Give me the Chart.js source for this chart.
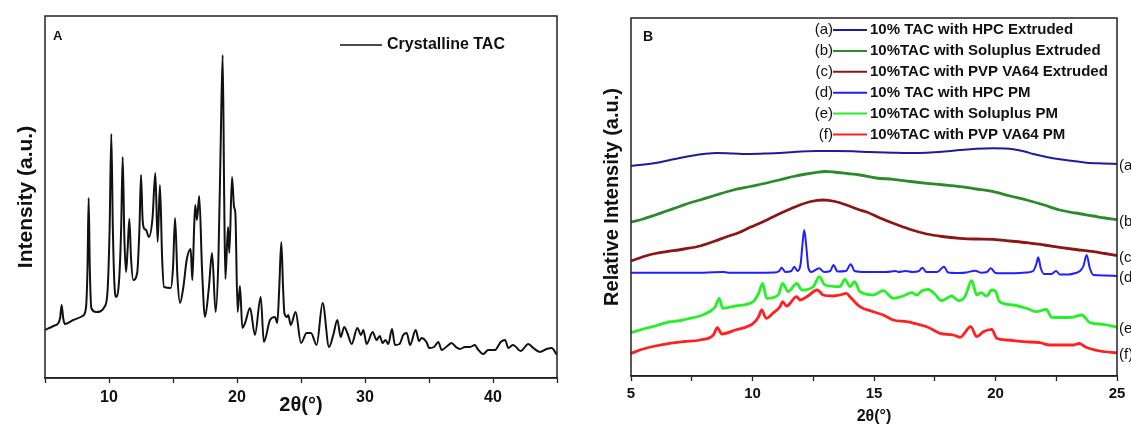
<!DOCTYPE html>
<html>
<head>
<meta charset="utf-8">
<title>TAC XRD patterns</title>
<script src="https://cdn.jsdelivr.net/npm/chart.js@4.4.1/dist/chart.umd.min.js"></script>
<style>
  html, body { margin: 0; padding: 0; background: #fff; }
  #wrap { position: relative; width: 1131px; height: 426px; overflow: hidden; }
  canvas { position: absolute; top: 0; }
  #panelA { left: 0; }
  #panelB { left: 570px; }
</style>
</head>
<body>
<div id="wrap">
  <canvas id="panelA" width="570" height="426"></canvas>
  <canvas id="panelB" width="561" height="426"></canvas>
</div>
<script>
const FONT = '"Liberation Sans", Arial, Helvetica, sans-serif';

// ---- Panel A: crystalline TAC ----
const tacAngle = [
  5.0, 5.65, 6.05, 6.18, 6.30, 6.42, 6.55, 7.21, 7.94, 8.2,
  8.32, 8.41, 8.5, 8.62, 9.0, 9.69, 9.9, 10.05, 10.18, 10.3,
  10.42, 10.55, 10.8, 10.95, 11.07, 11.2, 11.33, 11.46, 11.59, 11.72,
  11.9, 12.2, 12.38, 12.5, 12.62, 12.72, 12.9, 13.12, 13.4, 13.62,
  13.8, 13.98, 14.15, 14.3, 14.82, 15.0, 15.16, 15.35, 15.55, 15.8,
  16.07, 16.38, 16.51, 16.65, 16.74, 16.87, 17.05, 17.27, 17.5, 17.8,
  18.05, 18.33, 18.55, 18.72, 18.88, 19.0, 19.09, 19.3, 19.4, 19.61,
  19.77, 19.87, 20.05, 20.23, 20.42, 20.63, 21.02, 21.4, 21.85, 22.1,
  22.58, 22.97, 23.15, 23.3, 23.46, 23.6, 23.7, 23.9, 24.0, 24.2,
  24.58, 25.0, 25.44, 25.78, 26.22, 26.69, 27.19, 27.52, 27.84, 28.1,
  28.38, 28.62, 28.96, 29.4, 29.69, 29.87, 30.13, 30.6, 30.9, 31.15,
  31.38, 31.6, 31.82, 32.11, 32.34, 32.7, 32.99, 33.26, 33.52, 33.96,
  34.22, 34.43, 34.8, 35.03, 35.4, 35.73, 35.99, 36.43, 36.77, 37.1,
  37.42, 37.81, 38.2, 38.59, 38.8, 39.24, 39.63, 40.16, 40.6, 40.94,
  41.2, 41.54, 41.72, 42.16, 42.76, 43.15, 43.67, 44.19, 44.58, 45.0
];
const tacIntensity = [
  48, 52, 55, 60, 73, 60, 54, 58, 62, 70,
  110, 180, 110, 70, 66, 72, 90, 150, 244, 150,
  95, 81, 100, 150, 221, 140, 106, 130, 159, 120,
  98, 105, 150, 203, 160, 150, 148, 141, 160, 205,
  136, 193, 120, 91, 90, 110, 160, 100, 75, 90,
  118, 129, 98, 150, 173, 158, 182, 108, 61, 90,
  125, 66, 120, 230, 323, 180, 99, 151, 125, 201,
  171, 165, 66, 92, 50, 55, 70, 43, 81, 36,
  58, 61, 55, 90, 136, 90, 65, 61, 63, 53,
  66, 35, 45, 45, 33, 75, 31, 43, 58, 41,
  51, 45, 34, 50, 43, 48, 34, 46, 38, 42,
  35, 38, 34, 49, 33, 34, 43, 45, 33, 48,
  37, 40, 36, 30, 31, 36, 28, 32, 35, 31,
  29, 31, 31, 33, 29, 24, 28, 28, 36, 38,
  30, 33, 32, 27, 34, 30, 26, 29, 30, 23
];

// ---- Panel B: extrudates and physical mixtures (offset traces) ----
const hpcExtAngle = [
  5, 6.0, 6.47, 7.0, 7.56, 8.0, 8.53, 9.2, 9.9, 10.6,
  11.27, 12.0, 12.64, 13.4, 14.15, 14.8, 15.79, 16.5, 17.17, 17.9,
  18.54, 19.2, 19.91, 20.4, 20.73, 21.2, 21.56, 22.1, 22.65, 23.2,
  23.75, 24.4, 25
];
const hpcExtI = [
  210, 213, 215.3, 218, 220.5, 222, 223, 222.5, 222, 222.5,
  223.3, 224.5, 225, 225, 224.7, 224, 223.3, 223, 223.3, 224.5,
  226, 227.3, 227.7, 227.5, 226.7, 224.5, 222, 219, 216.7, 215,
  213.3, 212.5, 212
];

const solExtAngle = [
  5, 5.5, 6.0, 6.47, 7.0, 7.4, 7.84, 8.5, 9.21, 9.9,
  10.58, 11.1, 11.68, 12.2, 12.64, 13.0, 13.33, 13.9, 14.42, 15.1,
  15.79, 16.5, 17.17, 17.9, 18.54, 19.2, 19.91, 20.6, 21.28, 22.0,
  22.65, 23.3, 24.03, 24.5, 25
];
const solExtI = [
  154, 157, 161, 165, 169.5, 173, 176, 181, 186, 189.5,
  193, 196, 199.5, 202, 203.7, 204.5, 204, 202.5, 201, 198,
  196.7, 194.5, 192.7, 191, 189.3, 187, 184.3, 180, 176, 171,
  166, 163, 160, 158, 156.5
];

const pvpExtAngle = [
  5, 5.6, 6.0, 6.47, 7.2, 7.84, 8.4, 8.94, 9.4, 9.9,
  10.5, 11.0, 11.5, 11.95, 12.4, 12.91, 13.4, 13.87, 14.42, 14.7,
  15.25, 15.79, 16.5, 17.17, 17.8, 18.54, 19.2, 19.91, 20.6, 21.28,
  22.0, 22.65, 23.3, 24.03, 24.5, 25
];
const pvpExtI = [
  115, 120, 122.5, 124.3, 127, 130, 134.5, 139.3, 143, 148.7,
  155, 161, 166.5, 171, 174.5, 176, 174.5, 171, 166, 164,
  158, 152.7, 146.5, 142, 139.5, 137.7, 137, 136.7, 135, 133.3,
  131, 128.7, 126.5, 124.3, 122.5, 120.5
];

const hpcPmAngle = [
  5, 6, 7, 8, 8.8, 9, 10, 10.9, 11.1, 11.2,
  11.35, 11.6, 11.72, 11.85, 11.98, 12.05, 12.13, 12.22, 12.3, 12.42,
  12.74, 12.95, 13.2, 13.33, 13.5, 13.85, 14.04, 14.2, 14.6, 15.0,
  15.5, 15.9, 16.0, 16.3, 16.6, 16.85, 16.99, 17.15, 17.6, 17.88,
  18.05, 18.5, 18.8, 19.16, 19.4, 19.65, 19.81, 20.0, 20.6, 21.0,
  21.28, 21.55, 21.68, 21.76, 21.86, 22.0, 22.3, 22.49, 22.65, 23.0,
  23.3, 23.48, 23.62, 23.75, 23.88, 24.03, 24.5, 25
];
const hpcPmI = [
  103.3, 103.3, 103.3, 103.3, 104, 103.3, 103.3, 103.5, 105, 108.3,
  104, 105, 109.3, 105, 112, 130, 146, 128, 108, 104,
  107.7, 104, 105, 111, 104.5, 105, 111.7, 105, 104, 104,
  104, 105, 104, 105, 104, 105, 108.3, 104, 104, 109.3,
  103.5, 103, 103.5, 105.3, 103.3, 104, 107.7, 103, 102.7, 103,
  103.5, 105, 112, 118.7, 108, 102, 102, 105, 101.5, 101.5,
  103, 105, 110, 121, 108, 101, 100.5, 100
];

const solPmAngle = [
  5, 5.5, 6.0, 6.6, 6.9, 7.3, 7.84, 8.2, 8.46, 8.63,
  8.77, 9.3, 10.03, 10.24, 10.42, 10.58, 11.06, 11.24, 11.47, 11.82,
  12.03, 12.5, 12.75, 12.98, 13.6, 13.8, 14.02, 14.2, 14.42, 14.97,
  15.38, 15.79, 16.2, 16.55, 16.76, 16.96, 17.23, 17.5, 17.78, 18.2,
  18.47, 18.74, 19.02, 19.23, 19.4, 19.64, 19.84, 20.0, 20.16, 20.73,
  21.3, 21.69, 22.1, 22.3, 22.7, 23.15, 23.55, 23.89, 24.44, 25
];
const solPmI = [
  43.3, 47, 50, 54.3, 55, 57, 60, 64, 69, 77.7,
  67.7, 70, 74.3, 82, 92.7, 77.7, 81, 92.7, 84.3, 92.7,
  86, 89.3, 99.3, 91, 89.3, 96.7, 89.3, 94.3, 84.3, 81,
  85.3, 77.7, 80, 83.3, 81, 85, 86.7, 82, 75.3, 80,
  75.3, 79.3, 95.3, 81, 83.3, 80, 86, 85, 74.3, 71,
  67.5, 64.3, 66.7, 58.7, 58.5, 58.7, 61, 53.3, 51.7, 48.7
];

const pvpPmAngle = [
  5, 5.5, 6.0, 6.6, 7.2, 7.84, 8.39, 8.55, 8.74, 9.3,
  10.03, 10.24, 10.38, 10.56, 10.85, 11.13, 11.24, 11.4, 11.82, 11.95,
  12.28, 12.66, 12.91, 13.33, 13.6, 13.87, 14.01, 14.42, 14.97, 15.38,
  15.79, 16.34, 16.76, 17.17, 17.72, 18.27, 18.54, 18.98, 19.23, 19.5,
  19.84, 20.05, 20.46, 21.15, 21.83, 22.24, 23.2, 23.45, 23.68, 24.3,
  25
];
const pvpPmI = [
  22.7, 27, 30, 32.7, 34.5, 36, 41, 48.3, 42, 46,
  52.7, 58.7, 66, 57.7, 63, 69.3, 74.3, 70, 79.3, 76,
  80, 86, 81, 80, 81, 82.7, 79.3, 69.3, 64.3, 61,
  56, 54.3, 52, 49.3, 42.7, 41, 38.7, 49.3, 39.3, 44.3,
  46.7, 37.7, 36, 34.3, 33.3, 31, 31, 32.5, 29.3, 25,
  23
];

const seriesTags = ['(a)', '(b)', '(c)', '(d)', '(e)', '(f)'];
const seriesNames = [
  '10% TAC with HPC Extruded',
  '10%TAC with Soluplus Extruded',
  '10%TAC with PVP VA64 Extruded',
  '10% TAC with HPC PM',
  '10%TAC with Soluplus PM',
  '10%TAC with PVP VA64 PM'
];
const seriesColors = ['#1c1c9c', '#2b8a2b', '#8c1616', '#1f1fff', '#26f026', '#ff2020'];

function pts(xs, ys) {
  return xs.map((x, i) => ({ x, y: ys[i] }));
}

// closed box around the plot area
const framePlugin = {
  id: 'frame',
  afterDatasetsDraw(chart) {
    const { ctx, chartArea: a } = chart;
    ctx.save();
    ctx.strokeStyle = '#222';
    ctx.lineWidth = 1.5;
    ctx.strokeRect(a.left, a.top, a.right - a.left, a.bottom - a.top);
    ctx.restore();
  }
};

const legendA = {
  id: 'legendA',
  afterDraw(chart) {
    const ctx = chart.ctx;
    ctx.save();
    ctx.fillStyle = '#111';
    ctx.textBaseline = 'middle';
    ctx.font = 'bold 13px ' + FONT;
    ctx.fillText('A', 53, 36);
    ctx.strokeStyle = '#111';
    ctx.lineWidth = 1.6;
    ctx.beginPath();
    ctx.moveTo(340, 45);
    ctx.lineTo(382, 45);
    ctx.stroke();
    ctx.font = 'bold 16px ' + FONT;
    ctx.fillText(chart.data.datasets[0].label, 387, 45);
    ctx.restore();
  }
};

const legendB = {
  id: 'legendB',
  afterDraw(chart) {
    const { ctx, chartArea: a } = chart;
    const ys = chart.scales.y;
    ctx.save();
    ctx.textBaseline = 'middle';
    ctx.fillStyle = '#111';
    ctx.font = 'bold 14px ' + FONT;
    ctx.fillText('B', 73, 37);
    chart.data.datasets.forEach((ds, i) => {
      const y = 30 + i * 20.9;
      ctx.font = '15px ' + FONT;
      ctx.fillStyle = '#111';
      ctx.textAlign = 'right';
      ctx.fillText(seriesTags[i], 263, y);
      ctx.strokeStyle = ds.borderColor;
      ctx.lineWidth = 2;
      ctx.beginPath();
      ctx.moveTo(263, y);
      ctx.lineTo(297, y);
      ctx.stroke();
      ctx.textAlign = 'left';
      ctx.font = 'bold 15px ' + FONT;
      ctx.fillText(ds.label, 300, y);
      // tag next to the end of each trace
      const last = ds.data[ds.data.length - 1].y;
      ctx.font = '15px ' + FONT;
      ctx.fillText(seriesTags[i], a.right + 2, ys.getPixelForValue(last) + 2);
    });
    ctx.restore();
  }
};

function xAxis(min, max, step, labelEvery, tickFont, tickPad, tickLen, title, titleFont, titlePadBottom, height) {
  return {
    type: 'linear', min, max,
    ticks: {
      stepSize: step, autoSkip: false, maxRotation: 0,
      color: '#111', padding: tickPad,
      font: { family: FONT, size: tickFont, weight: 'bold' },
      callback: v => (Math.abs(v % labelEvery) < 1e-9 ? String(v) : '')
    },
    grid: { drawOnChartArea: false, tickLength: tickLen, color: '#222', tickWidth: 1.3 },
    border: { color: '#222', width: 1.5 },
    title: {
      display: true, text: title, color: '#111',
      font: { family: FONT, size: titleFont, weight: 'bold' },
      padding: { top: 0, bottom: titlePadBottom }
    },
    afterFit(s) { s.height = height; s.paddingLeft = 0; s.paddingRight = 0; }
  };
}

function yAxis(max, title, titleFont, titlePadTop, width) {
  return {
    min: 0, max,
    ticks: { display: false },
    grid: { display: false },
    border: { display: false },
    title: {
      display: true, text: title, color: '#111',
      font: { family: FONT, size: titleFont, weight: 'bold' },
      padding: { top: titlePadTop, bottom: 0 }
    },
    afterFit(s) { s.width = width; }
  };
}

new Chart(document.getElementById('panelA'), {
  type: 'line',
  data: {
    datasets: [{
      label: 'Crystalline TAC',
      data: pts(tacAngle, tacIntensity),
      borderColor: '#111', borderWidth: 2,
      pointRadius: 0, cubicInterpolationMode: 'monotone'
    }]
  },
  options: {
    responsive: false, animation: false, events: [], devicePixelRatio: 1,
    layout: { padding: { top: 16, right: 13, left: 0, bottom: 0 } },
    plugins: { legend: { display: false }, tooltip: { enabled: false } },
    scales: {
      x: xAxis(5, 45, 5, 10, 16, 5, 5, '2θ(°)', 20, 9, 48),
      y: yAxis(362, 'Intensity (a.u.)', 21, 14, 45)
    }
  },
  plugins: [framePlugin, legendA]
});

const bAngles = [hpcExtAngle, solExtAngle, pvpExtAngle, hpcPmAngle, solPmAngle, pvpPmAngle];
const bValues = [hpcExtI, solExtI, pvpExtI, hpcPmI, solPmI, pvpPmI];

new Chart(document.getElementById('panelB'), {
  type: 'line',
  data: {
    datasets: bAngles.map((xs, i) => ({
      label: seriesNames[i],
      data: pts(xs, bValues[i]),
      borderColor: seriesColors[i],
      borderWidth: i === 0 || i === 3 ? 2 : 2.8,
      pointRadius: 0,
      cubicInterpolationMode: 'monotone'
    }))
  },
  options: {
    responsive: false, animation: false, events: [], devicePixelRatio: 1,
    layout: { padding: { top: 18, right: 14, left: 0, bottom: 0 } },
    plugins: { legend: { display: false }, tooltip: { enabled: false } },
    scales: {
      x: xAxis(5, 25, 2.5, 5, 15, 4, 5, '2θ(°)', 16, 0, 50),
      y: yAxis(358, 'Relative Intensity (a.u.)', 20, 30, 61)
    }
  },
  plugins: [framePlugin, legendB]
});
</script>
</body>
</html>
